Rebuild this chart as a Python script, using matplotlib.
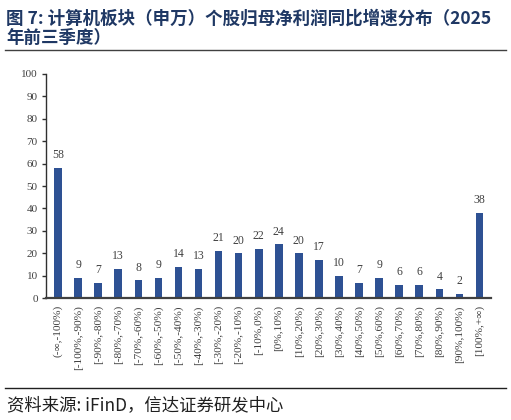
import matplotlib
matplotlib.use("Agg")
import matplotlib.pyplot as plt
from matplotlib.lines import Line2D

categories = ["(-∞,-100%)", "[-100%,-90%)", "[-90%,-80%)", "[-80%,-70%)", "[-70%,-60%)",
              "[-60%,-50%)", "[-50%,-40%)", "[-40%,-30%)", "[-30%,-20%)", "[-20%,-10%)",
              "[-10%,0%)", "[0%,10%)", "[10%,20%)", "[20%,30%)", "[30%,40%)",
              "[40%,50%)", "[50%,60%)", "[60%,70%)", "[70%,80%)", "[80%,90%)",
              "[90%,100%)", "[100%,+∞)"]
counts = [58, 9, 7, 13, 8, 9, 14, 13, 21, 20, 22, 24, 20, 17, 10, 7, 9, 6, 6, 4, 2, 38]
yticks = list(range(0, 101, 10))

title_text = "图 7: 计算机板块（申万）个股归母净利润同比增速分布（2025\n年前三季度）"
source_text = "资料来源: iFinD，信达证券研发中心"

serif = ["Liberation Serif", "DejaVu Serif"]
cjk = ["Noto Sans CJK SC", "DejaVu Sans"]

fig = plt.figure(figsize=(5.11, 4.20), dpi=100)
ax = fig.add_axes([0.090, 0.290, 0.870, 0.534])

x = list(range(len(categories)))
bars = ax.bar(x, counts, width=0.38, color="#2E5193")
for xi, v in zip(x, counts):
    ax.text(xi, v + 3, str(v), ha="center", va="bottom", fontsize=8.5,
            family=serif, color="#404040")

ax.set_xlim(-0.6, len(categories) - 0.45)
ax.set_ylim(0, 100)
ax.set_yticks(yticks)
ax.set_yticklabels([str(t) for t in yticks], family=serif, fontsize=8, color="#404040")
ax.set_xticks(x)
ax.set_xticklabels(categories, rotation=90, family=serif + ["DejaVu Sans"], fontsize=8.2,
                   color="#404040", ha="center", va="top")
ax.tick_params(axis="x", length=0, pad=5)
ax.tick_params(axis="y", length=3, width=1, color="#303030", pad=3)
for s in ["top", "right"]:
    ax.spines[s].set_visible(False)
ax.spines["left"].set_color("#303030")
ax.spines["left"].set_linewidth(1.0)
ax.spines["bottom"].set_color("#404040")
ax.spines["bottom"].set_linewidth(1.6)

fig.text(0.012, 0.978, title_text, ha="left", va="top", fontsize=12.6,
         fontweight="bold", family=cjk, color="#1F3864", linespacing=1.1)
fig.add_artist(Line2D([0.01, 0.99], [0.881, 0.881], transform=fig.transFigure,
                      color="#404040", linewidth=1.0))
fig.add_artist(Line2D([0.01, 0.99], [0.076, 0.076], transform=fig.transFigure,
                      color="#202020", linewidth=1.0))
fig.text(0.014, 0.036, source_text, ha="left", va="center", fontsize=12.5,
         style="italic", family=cjk, color="#202020")

fig.savefig("out.png", dpi=100)
